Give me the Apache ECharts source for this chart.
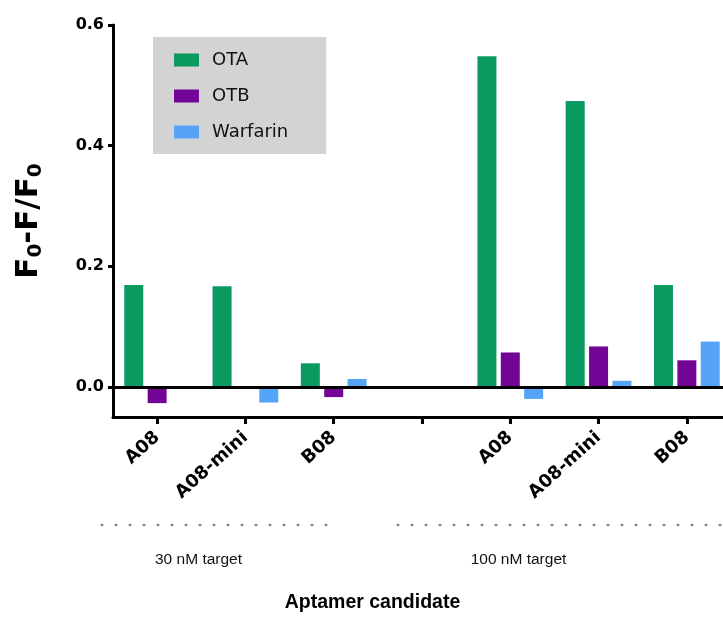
<!DOCTYPE html>
<html>
<head>
<meta charset="utf-8">
<script src="https://cdn.jsdelivr.net/npm/echarts@6/dist/echarts.min.js"></script>
<style>
  html, body { margin: 0; padding: 0; background: #fff; overflow: hidden; }
  #chart { width: 723px; height: 621px; }
</style>
</head>
<body>
<div id="chart"></div>
<script>
// ---- data ----
const categories = ['A08', 'A08-mini', 'B08', '', 'A08', 'A08-mini', 'B08'];
const seriesNames = ['OTA', 'OTB', 'Warfarin'];
const otaValues = [0.169, 0.167, 0.039, null, 0.548, 0.474, 0.169];
const otbValues = [-0.027, 0, -0.017, null, 0.057, 0.067, 0.044];
const warfarinValues = [0, -0.026, 0.013, null, -0.020, 0.010, 0.075];
const yTicks = [0, 0.2, 0.4, 0.6];
const groupLabels = ['30 nM target', '100 nM target'];
const xTitle = 'Aptamer candidate';

const colors = ['#0B9962', '#730596', '#55A4F8'];
const wide = 'DejaVu Sans';
const arial = '"Liberation Sans", Arial, sans-serif';

const chart = echarts.init(document.getElementById('chart'), null, { renderer: 'canvas' });

const mk = (name, data, color, extra) => Object.assign({
  name, type: 'bar', data, barWidth: 19, barGap: '23%',
  itemStyle: { color }, silent: true, animation: false
}, extra || {});

chart.setOption({
  animation: false,
  color: colors,
  grid: { left: 113, right: -8, top: 25, bottom: 204, outerBoundsMode: 'none', containLabel: false },
  legend: {
    orient: 'vertical', left: 153, top: 37,
    backgroundColor: '#D3D3D3',
    padding: [14, 38, 13, 21],
    itemGap: 18, itemWidth: 25, itemHeight: 13, icon: 'rect',
    textStyle: { fontFamily: wide, fontSize: 18, color: '#111', padding: [0, 0, 0, 8] },
    data: seriesNames
  },
  xAxis: {
    type: 'category', data: categories,
    axisLine: { show: true, onZero: false, lineStyle: { color: '#000', width: 3 } },
    axisTick: { show: true, interval: 0, alignWithLabel: true, length: 7, lineStyle: { color: '#000', width: 3 } },
    axisLabel: { interval: 0, rotate: 42, margin: 18, fontFamily: wide, fontWeight: 'bold', fontSize: 18, color: '#000' },
    splitLine: { show: false }
  },
  yAxis: {
    type: 'value', min: -0.05, max: 0.6,
    name: '{b|F}{s|0}{b|-F/F}{s|0}',
    nameLocation: 'middle', nameRotate: 90, nameGap: 67,
    nameTextStyle: {
      rich: {
        b: { fontFamily: wide, fontWeight: 'bold', fontSize: 31, color: '#000', lineHeight: 35, verticalAlign: 'middle' },
        s: { fontFamily: wide, fontWeight: 'bold', fontSize: 20, color: '#000', lineHeight: 20, verticalAlign: 'bottom' }
      }
    },
    axisLine: { show: true, lineStyle: { color: '#000', width: 3 } },
    axisTick: { show: true, length: 5, customValues: yTicks, lineStyle: { color: '#000', width: 3 } },
    axisLabel: {
      customValues: yTicks, margin: 9,
      fontFamily: wide, fontWeight: 'bold', fontSize: 16, color: '#000',
      formatter: v => v.toFixed(1)
    },
    splitLine: { show: false }
  },
  series: [
    mk(seriesNames[0], otaValues, colors[0]),
    mk(seriesNames[1], otbValues, colors[1]),
    mk(seriesNames[2], warfarinValues, colors[2], {
      markLine: {
        silent: true, symbol: ['none', 'none'], label: { show: false },
        lineStyle: { color: '#000', width: 3, type: 'solid' },
        data: [{ yAxis: 0 }]
      }
    })
  ],
  graphic: [
    { type: 'line', silent: true, shape: { x1: 101.7, y1: 525, x2: 327, y2: 525 },
      style: { stroke: '#8a8a8a', lineWidth: 2.6, lineDash: [0.6, 13.4], lineCap: 'round' } },
    { type: 'line', silent: true, shape: { x1: 397.7, y1: 525, x2: 725, y2: 525 },
      style: { stroke: '#8a8a8a', lineWidth: 2.6, lineDash: [0.6, 13.4], lineCap: 'round' } },
    { type: 'text', silent: true, x: 198.5, y: 560,
      style: { text: groupLabels[0], font: '15.5px ' + arial, fill: '#111', align: 'center', verticalAlign: 'middle', textAlign: 'center', textVerticalAlign: 'middle' } },
    { type: 'text', silent: true, x: 518.5, y: 560,
      style: { text: groupLabels[1], font: '15.5px ' + arial, fill: '#111', align: 'center', verticalAlign: 'middle', textAlign: 'center', textVerticalAlign: 'middle' } },
    { type: 'text', silent: true, x: 372.5, y: 603,
      style: { text: xTitle, font: 'bold 19.5px ' + arial, fill: '#000', align: 'center', verticalAlign: 'middle', textAlign: 'center', textVerticalAlign: 'middle' } }
  ]
});
</script>
</body>
</html>
